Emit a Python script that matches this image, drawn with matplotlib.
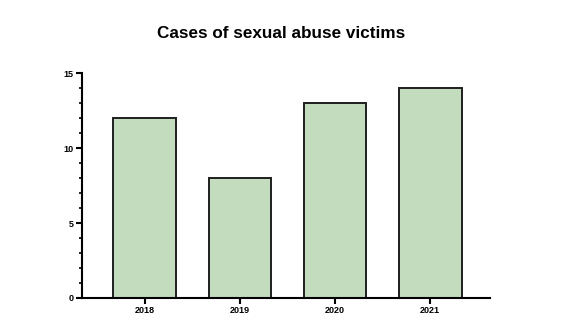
import matplotlib.pyplot as plt
from matplotlib.ticker import MultipleLocator

plt.rcParams['font.family'] = ['Liberation Sans', 'DejaVu Sans']

years = ["2018", "2019", "2020", "2021"]
cases = [12, 8, 13, 14]

fig = plt.figure(figsize=(5.62, 3.18), dpi=100)
ax = fig.add_axes([0.146, 0.063, 0.726, 0.707])

ax.bar(range(len(years)), cases, width=0.66, color="#c3dcbe",
       edgecolor="#1e1e1e", linewidth=1.4)

ax.set_xticks(range(len(years)))
ax.set_xticklabels(years, fontsize=6.5, fontweight="bold")
ax.set_xlim(-0.66, 3.63)
ax.set_ylim(0, 15)
ax.yaxis.set_major_locator(MultipleLocator(5))
ax.yaxis.set_minor_locator(MultipleLocator(1))
for lbl in ax.get_yticklabels():
    lbl.set_fontsize(6.5)
    lbl.set_fontweight("bold")

ax.spines["top"].set_visible(False)
ax.spines["right"].set_visible(False)
ax.spines["left"].set_linewidth(1.5)
ax.spines["bottom"].set_linewidth(1.5)
ax.tick_params(axis="both", which="major", length=4, width=1.5, pad=2)
ax.tick_params(axis="y", which="minor", length=2.5, width=1.2)

fig.suptitle("Cases of sexual abuse victims", fontsize=12.3, fontweight="bold", y=0.918)

plt.savefig("out.png", dpi=100)
